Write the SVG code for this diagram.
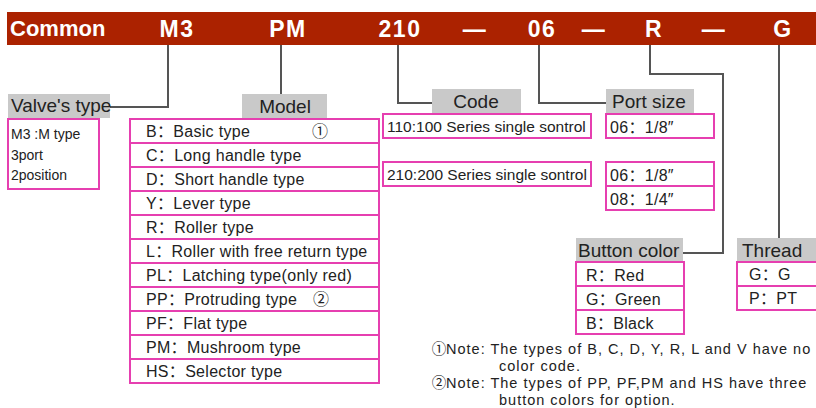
<svg xmlns="http://www.w3.org/2000/svg" width="816" height="408" viewBox="0 0 816 408">
<style>
text{font-family:"Liberation Sans","Noto Sans CJK SC",sans-serif;fill:#222}
.hd{font-weight:bold;font-size:22px;fill:#fff}
.cd{font-weight:bold;font-size:23px;fill:#fff;text-anchor:middle;letter-spacing:1.5px}
.lbl{fill:#c9c9c9}
.lt{font-size:19px;fill:#222}
.box{fill:#fff;stroke:#e63fb0;stroke-width:2}
.row{font-size:16px;letter-spacing:0.3px}
.sm{font-size:14px}
.cn{font-size:15.5px}
.note{font-size:14.5px;letter-spacing:1px}
.circ{font-family:"Noto Sans CJK SC","DejaVu Sans",sans-serif;font-size:16px;text-anchor:middle}
.nc{font-family:"Noto Sans CJK SC","DejaVu Sans",sans-serif;font-size:14.5px;text-anchor:middle}
.con{fill:none;stroke:#555;stroke-width:2}
</style>
<g id="header">
<rect x="7" y="12" width="809" height="33" fill="#ab2200"/>
<text class="hd" x="10" y="36">Common</text>
<text class="cd" x="177" y="37">M3</text>
<text class="cd" x="288" y="37">PM</text>
<text class="cd" x="400" y="37">210</text>
<text class="cd" x="475" y="37">—</text>
<text class="cd" x="542" y="37">06</text>
<text class="cd" x="594" y="37">—</text>
<text class="cd" x="654" y="37">R</text>
<text class="cd" x="714" y="37">—</text>
<text class="cd" x="783" y="37">G</text>
</g>
<g id="connectors">
<polyline class="con" points="168,45 168,107 110,107"/>
<polyline class="con" points="281,45 281,94"/>
<polyline class="con" points="398,45 398,103 432,103"/>
<polyline class="con" points="539,45 539,103 606,103"/>
<polyline class="con" points="650,45 650,74 723,74 723,253 683,253"/>
<polyline class="con" points="779,45 779,238"/>
</g>
<g id="valve-type">
<rect class="lbl" x="8" y="94" width="102" height="24"/>
<text class="lt" x="11" y="112">Valve's type</text>
<rect class="box" x="8" y="119" width="91" height="70"/>
<text class="sm" x="11" y="139">M3 :M type</text>
<text class="sm" x="11" y="160">3port</text>
<text class="sm" x="11" y="180">2position</text>
</g>
<g id="model">
<rect class="lbl" x="242" y="94" width="85" height="24"/>
<text class="lt" x="285" y="113" text-anchor="middle">Model</text>
<rect class="box" x="130" y="119" width="249" height="264"/>
<g stroke="#e63fb0" stroke-width="2">
<line x1="130" y1="143" x2="379" y2="143"/>
<line x1="130" y1="167" x2="379" y2="167"/>
<line x1="130" y1="191" x2="379" y2="191"/>
<line x1="130" y1="215" x2="379" y2="215"/>
<line x1="130" y1="239" x2="379" y2="239"/>
<line x1="130" y1="263" x2="379" y2="263"/>
<line x1="130" y1="287" x2="379" y2="287"/>
<line x1="130" y1="311" x2="379" y2="311"/>
<line x1="130" y1="335" x2="379" y2="335"/>
<line x1="130" y1="359" x2="379" y2="359"/>
</g>
<text class="row" x="146" y="137">B：Basic type</text>
<text class="circ" x="320" y="137">①</text>
<text class="row" x="146" y="161">C：Long handle type</text>
<text class="row" x="146" y="185">D：Short handle type</text>
<text class="row" x="146" y="209">Y：Lever type</text>
<text class="row" x="146" y="233">R：Roller type</text>
<text class="row" x="146" y="257">L：Roller with free return type</text>
<text class="row" x="146" y="281">PL：Latching type(only red)</text>
<text class="row" x="146" y="305">PP：Protruding type</text>
<text class="circ" x="321" y="305">②</text>
<text class="row" x="146" y="329">PF：Flat type</text>
<text class="row" x="146" y="353">PM：Mushroom type</text>
<text class="row" x="146" y="377">HS：Selector type</text>
</g>
<g id="code">
<rect class="lbl" x="432" y="89" width="89" height="24"/>
<text class="lt" x="476" y="108" text-anchor="middle">Code</text>
<rect class="box" x="383" y="114" width="208" height="24"/>
<text class="cn" x="387" y="132">110:100 Series single sontrol</text>
<rect class="box" x="383" y="162" width="208" height="24"/>
<text class="cn" x="387" y="180">210:200 Series single sontrol</text>
</g>
<g id="port-size">
<rect class="lbl" x="606" y="89" width="88" height="24"/>
<text class="lt" x="612" y="108">Port size</text>
<rect class="box" x="606" y="114" width="108" height="24"/>
<text class="row" x="610" y="133">06：1/8″</text>
<rect class="box" x="606" y="162" width="108" height="48"/>
<line x1="606" y1="186" x2="714" y2="186" stroke="#e63fb0" stroke-width="2"/>
<text class="row" x="610" y="181">06：1/8″</text>
<text class="row" x="610" y="205">08：1/4″</text>
</g>
<g id="button-color">
<rect class="lbl" x="576" y="238" width="107" height="23"/>
<text class="lt" x="578" y="257">Button color</text>
<rect class="box" x="576" y="262" width="108" height="72"/>
<line x1="576" y1="286" x2="684" y2="286" stroke="#e63fb0" stroke-width="2"/>
<line x1="576" y1="310" x2="684" y2="310" stroke="#e63fb0" stroke-width="2"/>
<text class="row" x="586" y="281">R：Red</text>
<text class="row" x="586" y="305">G：Green</text>
<text class="row" x="586" y="329">B：Black</text>
</g>
<g id="thread">
<rect class="lbl" x="737" y="238" width="80" height="23"/>
<text class="lt" x="742" y="257">Thread</text>
<rect class="box" x="737" y="262" width="90" height="48"/>
<line x1="737" y1="286" x2="816" y2="286" stroke="#e63fb0" stroke-width="2"/>
<text class="row" x="749" y="280">G：G</text>
<text class="row" x="749" y="304">P：PT</text>
</g>
<g id="notes">
<text class="nc" x="439" y="354">①</text>
<text class="note" x="446" y="354">Note: The types of B, C, D, Y, R, L and V have no</text>
<text class="note" x="499" y="371">color code.</text>
<text class="nc" x="439" y="388">②</text>
<text class="note" x="446" y="388">Note: The types of PP, PF,PM and HS have three</text>
<text class="note" x="499" y="405">button colors for option.</text>
</g>
</svg>
